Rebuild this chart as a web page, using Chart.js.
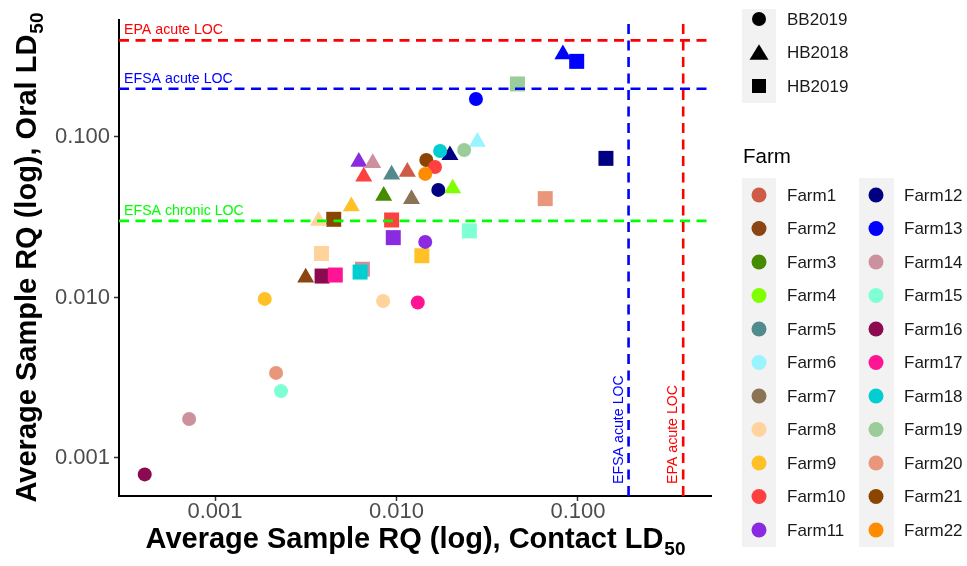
<!DOCTYPE html>
<html><head><meta charset="utf-8">
<script src="https://cdn.jsdelivr.net/npm/chart.js@4.4.0/dist/chart.umd.min.js"></script>
<style>
html,body{margin:0;padding:0;background:#fff;}
#wrap{position:relative;width:967px;height:566px;}
canvas{position:absolute;left:0;top:0;}
</style></head><body>
<div id="wrap"><canvas id="c" width="967" height="566"></canvas></div>
<script>
// ---- data ----
const farms = ['Farm1','Farm2','Farm3','Farm4','Farm5','Farm6','Farm7','Farm8','Farm9','Farm10','Farm11',
               'Farm12','Farm13','Farm14','Farm15','Farm16','Farm17','Farm18','Farm19','Farm20','Farm21','Farm22'];
const farmColors = ['#CD5B45','#8B4513','#458B00','#7FFF00','#528B8B','#98F5FF','#8B7355','#FFD39B','#FFC125','#FF4040','#8A2BE2',
                    '#000080','#0000FF','#CD919E','#7FFFD4','#8B0A50','#FF1493','#00CED1','#9BCD9B','#E9967A','#8B4500','#FF8C00'];
const seasons = ['BB2019','HB2018','HB2019'];

// BB2019 (circles)
const bbFarm    = ['Farm16','Farm14','Farm20','Farm15','Farm9','Farm8','Farm17','Farm11','Farm12','Farm21','Farm10','Farm22','Farm18','Farm19','Farm13'];
const bbContact = [0.00041,0.00072,0.00217,0.00231,0.00188,0.00844,0.0131,0.0144,0.0170,0.0146,0.0163,0.0144,0.0174,0.0236,0.0274];
const bbOral    = [0.00079,0.00175,0.00339,0.00261,0.0098,0.0095,0.0093,0.0222,0.0468,0.0719,0.0650,0.0589,0.0818,0.0830,0.1726];

// HB2018 (triangles)
const hb18Farm    = ['Farm13','Farm6','Farm12','Farm4','Farm1','Farm7','Farm11','Farm14','Farm10','Farm5','Farm3','Farm9','Farm8','Farm2'];
const hb18Contact = [0.0826,0.0279,0.0197,0.0204,0.01148,0.0121,0.0062,0.0074,0.0066,0.0094,0.0085,0.00564,0.00372,0.00316];
const hb18Oral    = [0.327,0.0934,0.0770,0.0478,0.0607,0.0410,0.0700,0.0687,0.0566,0.0584,0.0430,0.0370,0.0300,0.0133];

// HB2019 (squares)
const hb19Farm    = ['Farm13','Farm19','Farm12','Farm20','Farm21','Farm10','Farm11','Farm9','Farm15','Farm8','Farm16','Farm17','Farm14','Farm18'];
const hb19Contact = [0.0984,0.0464,0.1426,0.066,0.00451,0.0094,0.0096,0.0138,0.0252,0.00386,0.00389,0.0046,0.00649,0.0063];
const hb19Oral    = [0.296,0.214,0.0736,0.0413,0.0307,0.0304,0.0236,0.0182,0.0260,0.0188,0.0136,0.0138,0.0150,0.0144];

// levels of concern
const locNames  = ['EPA acute LOC','EFSA acute LOC','EFSA chronic LOC'];
const locValues = [0.4, 0.2, 0.03];
const locColors = ['#FF0000','#0000FF','#00FF00'];
const vLocNames  = ['EFSA acute LOC','EPA acute LOC'];
const vLocValues = [0.19, 0.38];
const vLocColors = ['#0000FF','#FF0000'];

const xTicks = [0.001, 0.01, 0.1];
const yTicks = [0.001, 0.01, 0.1];
const xTitle = 'Average Sample RQ (log), Contact LD';
const yTitle = 'Average Sample RQ (log), Oral LD';
const titleSub = '50';

// ---- build ----
const colorOf = f => farmColors[farms.indexOf(f)];
function mk(label, fs, xs, ys, style, r){
  return {label, data: xs.map((x,i)=>({x, y: ys[i]})),
    backgroundColor: fs.map(colorOf), borderWidth:0,
    pointStyle: style, pointRadius: r, pointHoverRadius: r};
}
const datasets = [
  mk(seasons[0], bbFarm, bbContact, bbOral, 'circle', 7),
  mk(seasons[1], hb18Farm, hb18Contact, hb18Oral, 'triangle', 9.8),
  mk(seasons[2], hb19Farm, hb19Contact, hb19Oral, 'rect', 10.6)
];

const FONT = '"Liberation Sans", Arial, sans-serif';

const refPlugin = {
  id:'ref',
  afterDatasetsDraw(chart){
    const {ctx, chartArea:a, scales:{x,y}} = chart;
    ctx.save();
    ctx.lineWidth = 2.6; ctx.setLineDash([10,6.5]); ctx.lineCap='butt';
    locValues.forEach((v,i)=>{
      const py = y.getPixelForValue(v);
      ctx.strokeStyle = locColors[i];
      ctx.beginPath(); ctx.moveTo(a.left, py); ctx.lineTo(a.right, py); ctx.stroke();
    });
    vLocValues.forEach((v,i)=>{
      const px = x.getPixelForValue(v);
      ctx.strokeStyle = vLocColors[i];
      ctx.beginPath(); ctx.moveTo(px, a.bottom); ctx.lineTo(px, a.top); ctx.stroke();
    });
    ctx.setLineDash([]);
    ctx.font = '14.2px ' + FONT;
    ctx.textBaseline = 'alphabetic'; ctx.textAlign='left';
    locValues.forEach((v,i)=>{
      const py = y.getPixelForValue(v);
      ctx.fillStyle = locColors[i];
      ctx.fillText(locNames[i], a.left + 5, py - 6);
    });
    vLocValues.forEach((v,i)=>{
      const px = x.getPixelForValue(v);
      ctx.save();
      ctx.translate(px - 6, a.bottom - 12);
      ctx.rotate(-Math.PI/2);
      ctx.fillStyle = vLocColors[i];
      ctx.fillText(vLocNames[i], 0, 0);
      ctx.restore();
    });
    ctx.restore();
  }
};

function drawSubTitle(ctx, main, sub, cx, cy){
  ctx.font = 'bold 29px ' + FONT;
  const w1 = ctx.measureText(main).width;
  ctx.font = 'bold 19px ' + FONT;
  const w2 = ctx.measureText(sub).width;
  const start = cx - (w1 + w2)/2;
  ctx.fillStyle = '#000';
  ctx.textAlign='left'; ctx.textBaseline='alphabetic';
  ctx.font = 'bold 29px ' + FONT;
  ctx.fillText(main, start, cy);
  ctx.font = 'bold 19px ' + FONT;
  ctx.fillText(sub, start + w1 + 1, cy + 7);
}

const decoPlugin = {
  id:'deco',
  afterDraw(chart){
    const {ctx, chartArea:a} = chart;
    ctx.save();
    drawSubTitle(ctx, xTitle, titleSub, (a.left + a.right)/2, 548);
    ctx.save();
    ctx.translate(36, (a.top + a.bottom)/2);
    ctx.rotate(-Math.PI/2);
    drawSubTitle(ctx, yTitle, titleSub, 0, 0);
    ctx.restore();

    // shape legend
    ctx.fillStyle = '#F2F2F2';
    ctx.fillRect(742, 9, 34, 94);
    const shapeY = [19, 52.7, 86];
    ctx.fillStyle = '#000';
    ctx.beginPath(); ctx.arc(759, shapeY[0], 7, 0, Math.PI*2); ctx.fill();
    ctx.beginPath(); ctx.moveTo(759, shapeY[1]-8.5); ctx.lineTo(768.5, shapeY[1]+7); ctx.lineTo(749.5, shapeY[1]+7); ctx.closePath(); ctx.fill();
    ctx.fillRect(752, shapeY[2]-7, 14, 14);
    ctx.font = '17px ' + FONT; ctx.fillStyle = '#1A1A1A';
    ctx.textBaseline = 'middle'; ctx.textAlign = 'left';
    seasons.forEach((s,i)=> ctx.fillText(s, 787, shapeY[i]+1));

    // farm legend
    ctx.font = '20.5px ' + FONT; ctx.fillStyle='#000';
    ctx.fillText('Farm', 743, 157);
    ctx.fillStyle = '#F2F2F2';
    ctx.fillRect(742, 178, 34, 369);
    ctx.fillRect(859, 178, 35, 369);
    ctx.font = '17px ' + FONT;
    farms.forEach((f,i)=>{
      const col = i < 11 ? 0 : 1;
      const row = i % 11;
      const kx = col ? 876 : 759;
      const ky = 195 + row*33.5;
      ctx.fillStyle = farmColors[i];
      ctx.beginPath(); ctx.arc(kx, ky, 7.5, 0, Math.PI*2); ctx.fill();
      ctx.fillStyle = '#1A1A1A';
      ctx.fillText(f, col ? 904 : 787, ky + 1);
    });
    ctx.restore();
  }
};

function axis(ticksArr, fitFn, pad){
  return {
    type:'logarithmic',
    afterBuildTicks: s => { s.ticks = ticksArr.map(v=>({value:v})); },
    afterFit: fitFn,
    ticks:{ callback: v => Number(v).toFixed(3), color:'#4D4D4D',
            font:{family:FONT, size:22, lineHeight:1}, padding:pad, maxRotation:0, autoSkip:false },
    grid:{ drawOnChartArea:false, drawTicks:true, tickLength:5, tickColor:'#333333', tickWidth:1.5 },
    border:{ display:true, color:'#000', width:2 },
    title:{display:false}
  };
}
const xAxis = axis(xTicks, s => { s.height = 70; }, 0);
xAxis.min = Math.pow(10, -3.529); xAxis.max = Math.pow(10, -0.267);
const yAxis = axis(yTicks, s => { s.width = 119; }, 4);
yAxis.min = Math.pow(10, -3.237); yAxis.max = Math.pow(10, -0.271);

new Chart(document.getElementById('c').getContext('2d'), {
  type:'scatter',
  data:{ datasets },
  options:{
    responsive:false, animation:false, devicePixelRatio:1,
    layout:{ padding:{ left:0, right:256, top:20, bottom:0 } },
    plugins:{ legend:{display:false}, tooltip:{enabled:false} },
    scales:{ x: xAxis, y: yAxis }
  },
  plugins:[refPlugin, decoPlugin]
});
</script>
</body></html>
